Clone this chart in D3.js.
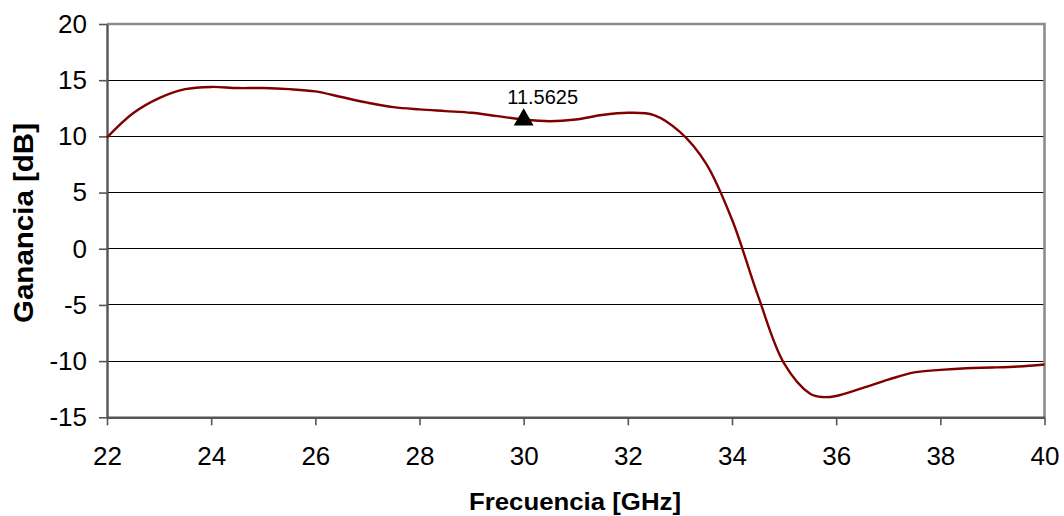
<!DOCTYPE html>
<html>
<head>
<meta charset="utf-8">
<script src="https://cdn.jsdelivr.net/npm/d3@7/dist/d3.min.js"></script>
<style>
  html, body { margin: 0; padding: 0; background: #fff; }
  svg { display: block; font-family: Arial, "Liberation Sans", sans-serif; }
</style>
</head>
<body>
<svg id="chart" width="1064" height="516"></svg>
<script>
// Ganancia vs frecuencia
var freq = [22, 22.5, 23, 23.5, 24, 24.5, 25, 25.5, 26, 26.5, 27, 27.5, 28, 28.5, 29, 29.5,
  30, 30.5, 31, 31.5, 32, 32.5, 33, 33.5, 34, 34.5, 35, 35.5, 35.75, 36, 36.5, 37, 37.5,
  38, 38.5, 39, 39.5, 40];
var gain = [9.9, 12.05, 13.4, 14.2, 14.4, 14.3, 14.3, 14.2, 14.0, 13.5, 13.0, 12.6, 12.4, 12.25, 12.1, 11.8,
  11.5, 11.35, 11.5, 11.9, 12.1, 11.9, 10.4, 7.6, 2.6, -4.2, -10.2, -12.9, -13.2, -13.1, -12.4, -11.65, -11.0,
  -10.78, -10.63, -10.57, -10.48, -10.3];

var xTicks = [22, 24, 26, 28, 30, 32, 34, 36, 38, 40];
var yTicks = [-15, -10, -5, 0, 5, 10, 15, 20];

var marker = { x: 30, y: 11.5625, label: '11.5625' };

var xTitle = 'Frecuencia [GHz]';
var yTitle = 'Ganancia [dB]';

(function () {
  var svg = d3.select('#chart');
  var margin = { top: 24, right: 20, bottom: 99, left: 107 };
  var w = 1044.5 - margin.left;
  var h = 417.3 - margin.top;

  var g = svg.append('g').attr('transform', 'translate(' + margin.left + ',' + margin.top + ')');

  var x = d3.scaleLinear().domain([22, 40]).range([0, w]);
  var y = d3.scaleLinear().domain([-15, 20]).range([h, 0]);

  // gridlines
  g.selectAll('line.grid').data(yTicks.filter(function (v) { return v > -15 && v < 20; }))
    .enter().append('line')
    .attr('class', 'grid')
    .attr('x1', 0).attr('x2', w)
    .attr('y1', function (d) { return y(d); }).attr('y2', function (d) { return y(d); })
    .attr('stroke', '#000').attr('stroke-width', 1).attr('shape-rendering', 'crispEdges');

  // top and right frame (gray)
  g.append('path')
    .attr('d', 'M0,0 H' + w + ' V' + h)
    .attr('fill', 'none').attr('stroke', '#8c8c8c').attr('stroke-width', 2.6);

  // axes (plain hyphen for negatives, like the original)
  var fmt = function (d) { return String(d); };
  var yAxis = d3.axisLeft(y).tickValues(yTicks).tickFormat(fmt).tickSize(8).tickSizeOuter(0).tickPadding(12);
  var xAxis = d3.axisBottom(x).tickValues(xTicks).tickFormat(fmt).tickSize(8).tickSizeOuter(0).tickPadding(21);

  var gy = g.append('g').call(yAxis);
  var gx = g.append('g').attr('transform', 'translate(0,' + h + ')').call(xAxis);

  [gy, gx].forEach(function (ax) {
    ax.select('.domain').attr('stroke', '#555').attr('stroke-width', 2.4);
    ax.selectAll('.tick line').attr('stroke', '#555').attr('stroke-width', 1.6);
    ax.selectAll('.tick text').attr('fill', '#000')
      .style('font-size', '26px').style('font-family', 'Arial, "Liberation Sans", sans-serif');
  });

  // data line
  var pts = freq.map(function (f, i) { return [f, gain[i]]; });
  var line = d3.line()
    .x(function (d) { return x(d[0]); })
    .y(function (d) { return y(d[1]); })
    .curve(d3.curveCatmullRom.alpha(0.5));

  g.append('path').datum(pts)
    .attr('d', line)
    .attr('fill', 'none').attr('stroke', '#800000').attr('stroke-width', 2.4);

  // marker triangle + value label
  var mx = x(marker.x), my = y(marker.y);
  g.append('path')
    .attr('d', d3.symbol().type(d3.symbolTriangle).size(170)())
    .attr('transform', 'translate(' + mx + ',' + (my + 1) + ')')
    .attr('fill', '#000');
  g.append('text')
    .attr('x', mx + 19).attr('y', my - 14.5)
    .attr('text-anchor', 'middle').style('font-size', '20px')
    .text(marker.label);

  // axis titles
  svg.append('text')
    .attr('x', 575).attr('y', 510)
    .attr('text-anchor', 'middle').style('font-size', '24px').style('font-weight', 'bold')
    .attr('textLength', 212).attr('lengthAdjust', 'spacingAndGlyphs')
    .text(xTitle);

  svg.append('text')
    .attr('transform', 'translate(33,223) rotate(-90)')
    .attr('text-anchor', 'middle').style('font-size', '27px').style('font-weight', 'bold')
    .attr('textLength', 200).attr('lengthAdjust', 'spacingAndGlyphs')
    .text(yTitle);
})();
</script>
</body>
</html>
